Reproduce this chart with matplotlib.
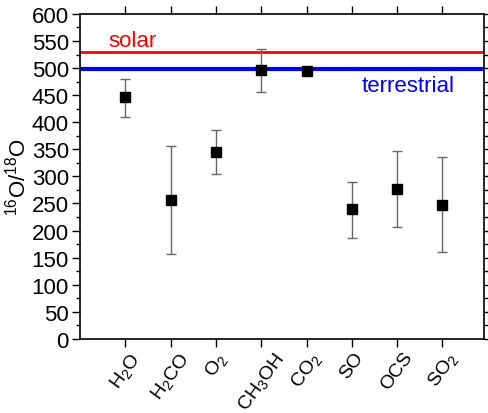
import numpy as np
import matplotlib.pyplot as plt
from matplotlib.ticker import MultipleLocator

plt.rcParams['font.family'] = ['Liberation Sans', 'DejaVu Sans']
plt.rcParams['mathtext.fontset'] = 'custom'
plt.rcParams['mathtext.rm'] = 'Liberation Sans'
plt.rcParams['mathtext.it'] = 'Liberation Sans'

# molecules and measured 16O/18O ratios
molecules = ['H$_2$O', 'H$_2$CO', 'O$_2$', 'CH$_3$OH', 'CO$_2$', 'SO', 'OCS', 'SO$_2$']
ratio = [446, 257, 345, 497, 494, 240, 277, 248]
err_low = [36, 101, 40, 42, 5, 54, 70, 88]
err_high = [34, 99, 40, 38, 5, 50, 70, 87]

solar = 530
terrestrial = 498.7

fig = plt.figure(figsize=(4.88, 4.14), dpi=100)
ax = fig.add_axes([0.164, 0.179, 0.828, 0.785])

x = np.arange(1, len(molecules) + 1)

ax.axhline(solar, color='red', lw=2.0, zorder=1)
ax.axhline(terrestrial, color='blue', lw=3.0, zorder=1)

ax.errorbar(x, ratio, yerr=[err_low, err_high], fmt='none', ecolor='#666666',
            elinewidth=1.0, capsize=3.5, capthick=1.0, zorder=2)
ax.plot(x, ratio, 's', color='black', ms=7, zorder=3)

ax.text(0.62, 541, 'solar', color='red', fontsize=16)
ax.text(6.22, 458, 'terrestrial', color='blue', fontsize=16)

ax.set_xlim(0, 8.92)
ax.set_ylim(0, 600)
ax.set_xticks(x)
ax.set_xticklabels(molecules, rotation=54, ha='center', va='top', fontsize=14)
ax.yaxis.set_major_locator(MultipleLocator(50))
ax.yaxis.set_minor_locator(MultipleLocator(25))
ax.tick_params(axis='y', labelsize=16, direction='out', length=6, width=1,
               right=True, pad=2)
ax.tick_params(axis='y', which='minor', direction='out', length=3, width=1,
               right=True)
ax.tick_params(axis='x', direction='out', length=6, width=1, top=True, pad=1)
for s in ax.spines.values():
    s.set_linewidth(1.2)

ax.set_ylabel('$^{16}$O/$^{18}$O', fontsize=16, labelpad=1)

fig.savefig('out.png', dpi=100)
